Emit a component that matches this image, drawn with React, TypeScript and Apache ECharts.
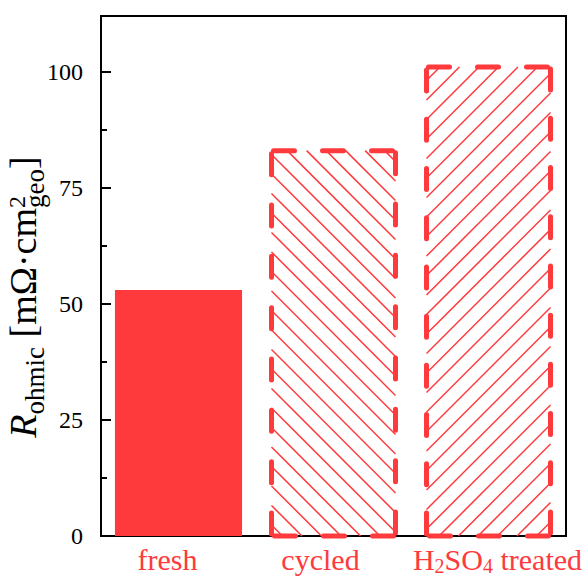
import React, { useEffect, useRef } from "react";
import * as echarts from "echarts";

// Ohmic resistance of the three samples, in mΩ·cm²(geo)
const categories = ["fresh", "cycled", "H2SO4 treated"];
const ohmicResistance = [53, 83, 101];
// Fill style of each bar: solid, "\" hatch with dashed outline, "/" hatch with dashed outline
const barFills = ["solid", "backslash", "slash"];
// Horizontal nudge of each category label (px, + = right)
const labelNudge = [-11, -13, 9];
// Value axis: labelled ticks every 25, small ticks every 12.5
const yMin = 0;
const yMax = 112;
const yMajorStep = 25;
const yMinorStep = 12.5;

const RED = "#fe3a3d";
const SERIF = '"Liberation Serif", "Times New Roman", serif';

function textWidth(text: string, font: string): number {
  const ctx = document.createElement("canvas").getContext("2d");
  if (!ctx) return text.length * 10;
  ctx.font = font;
  return ctx.measureText(text).width;
}

// Rotated axis title: R_ohmic [mΩ·cm²_geo], with the "2" stacked over "geo"
function buildTitle(baseX: number, centerY: number) {
  const main = 38;
  const small = 27;
  const parts = [
    { text: "R", size: main, italic: true, shift: 0, advance: true },
    { text: "ohmic", size: small, italic: false, shift: 8, advance: true },
    { text: " [mΩ·cm", size: main, italic: false, shift: 0, advance: true },
    { text: "2", size: 24, italic: false, shift: -11, advance: false },
    { text: "geo", size: small, italic: false, shift: 8, advance: true },
    { text: "]", size: main, italic: false, shift: 0, advance: true },
  ];
  let x = 0;
  const children: any[] = [];
  for (const p of parts) {
    const font = `${p.italic ? "italic " : ""}${p.size}px ${SERIF}`;
    children.push({
      type: "text",
      x,
      y: p.shift - 0.34 * p.size,
      style: {
        text: p.text,
        fontSize: p.size,
        fontFamily: SERIF,
        fontStyle: p.italic ? "italic" : "normal",
        fill: "#000",
        align: "left",
        verticalAlign: "middle",
      },
    });
    if (p.advance) x += textWidth(p.text, font);
  }
  return {
    type: "group",
    x: baseX,
    y: centerY + x / 2,
    rotation: Math.PI / 2,
    children,
  };
}

// "H2SO4 treated" -> rich text with subscript digits
function richLabel(value: string): string {
  return value
    .split(/(\d)/)
    .filter((s) => s.length > 0)
    .map((s) => (/^\d$/.test(s) ? `{s|${s}}` : `{n|${s}}`))
    .join("");
}

function hatchLines(x0: number, y0: number, x1: number, y1: number, dir: string) {
  const step = 19.5;
  const lines: any[] = [];
  const style = { stroke: RED, lineWidth: 1.5 };
  if (dir === "backslash") {
    // y = x + c
    const cMin = y0 - x1;
    const cMax = y1 - x0;
    for (let c = Math.ceil(cMin / step) * step; c <= cMax; c += step) {
      const sx = Math.max(x0, y0 - c);
      const ex = Math.min(x1, y1 - c);
      if (ex - sx > 0.5)
        lines.push({ type: "line", shape: { x1: sx, y1: sx + c, x2: ex, y2: ex + c }, style });
    }
  } else {
    // y = -x + c
    const cMin = x0 + y0;
    const cMax = x1 + y1;
    for (let c = Math.ceil(cMin / step) * step; c <= cMax; c += step) {
      const sx = Math.max(x0, c - y1);
      const ex = Math.min(x1, c - y0);
      if (ex - sx > 0.5)
        lines.push({ type: "line", shape: { x1: sx, y1: c - sx, x2: ex, y2: c - ex }, style });
    }
  }
  return lines;
}

// One dashed side that begins and ends with a dash
function dashedSide(ax: number, ay: number, bx: number, by: number) {
  const lw = 5;
  const dash = 26;
  const gapTarget = 26;
  const len = Math.hypot(bx - ax, by - ay);
  const n = Math.max(2, Math.round((len + gapTarget) / (dash + gapTarget)));
  const gap = (len - n * dash) / (n - 1);
  return {
    type: "line",
    shape: { x1: ax, y1: ay, x2: bx, y2: by },
    style: {
      stroke: RED,
      lineWidth: lw,
      lineCap: "round",
      lineDash: [dash - lw, gap + lw],
      lineDashOffset: -lw / 2,
    },
  };
}

export default function App() {
  const ref = useRef<HTMLDivElement>(null);

  useEffect(() => {
    if (!ref.current) return;
    const chart = echarts.init(ref.current, undefined, { renderer: "svg" });

    const option: any = {
      animation: false,
      backgroundColor: "#fff",
      grid: {
        left: 101,
        top: 16,
        right: 20,
        bottom: 39,
        show: true,
        borderColor: "#000",
        borderWidth: 2,
        backgroundColor: "transparent",
      },
      xAxis: {
        type: "category",
        data: categories.map((c, i) => ({
          value: c,
          textStyle: {
            padding:
              labelNudge[i] < 0
                ? [0, -2 * labelNudge[i], 0, 0]
                : [0, 0, 0, 2 * labelNudge[i]],
          },
        })),
        boundaryGap: true,
        axisLine: { show: true, lineStyle: { color: "#000", width: 2 } },
        axisTick: { show: false },
        splitLine: { show: false },
        axisLabel: {
          interval: 0,
          hideOverlap: false,
          margin: 6,
          color: RED,
          fontFamily: SERIF,
          fontSize: 30,
          lineHeight: 34,
          formatter: (v: string) => (/\d/.test(v) ? richLabel(v) : v),
          rich: {
            n: { color: RED, fontFamily: SERIF, fontSize: 30, lineHeight: 34, verticalAlign: "middle" },
            s: { color: RED, fontFamily: SERIF, fontSize: 20, lineHeight: 16, verticalAlign: "bottom" },
          },
        },
      },
      yAxis: [
        {
          type: "value",
          min: yMin,
          max: yMax,
          interval: yMajorStep,
          position: "left",
          axisLine: { show: true, lineStyle: { color: "#000", width: 2 } },
          axisTick: { show: true, inside: true, length: 10, lineStyle: { color: "#000", width: 2 } },
          splitLine: { show: false },
          axisLabel: {
            margin: 18,
            color: "#000",
            fontFamily: SERIF,
            fontSize: 24,
            showMaxLabel: false,
          },
        },
        {
          type: "value",
          min: yMin,
          max: yMax,
          interval: yMinorStep,
          position: "left",
          axisLine: { show: false },
          axisTick: { show: true, inside: true, length: 6, lineStyle: { color: "#000", width: 2 } },
          splitLine: { show: false },
          axisLabel: { show: false },
        },
      ],
      graphic: [buildTitle(36, 297)],
      series: [
        {
          type: "custom",
          coordinateSystem: "cartesian2d",
          xAxisIndex: 0,
          yAxisIndex: 0,
          clip: false,
          encode: { x: 0, y: 1 },
          data: categories.map((_, i) => [i, ohmicResistance[i]]),
          renderItem: (params: any, api: any) => {
            const i = params.dataIndex;
            const cat = api.value(0);
            const val = api.value(1);
            const topPt = api.coord([cat, val]);
            const basePt = api.coord([cat, 0]);
            const band = api.size([1, 0])[0];
            const fill = barFills[i];
            const w = band * (fill === "solid" ? 0.82 : 0.8);
            const x0 = topPt[0] - w / 2;
            const x1 = topPt[0] + w / 2;
            const y0 = topPt[1];
            const y1 = basePt[1];
            if (fill === "solid") {
              return {
                type: "rect",
                shape: { x: x0, y: y0, width: w, height: y1 - y0 },
                style: { fill: RED },
              };
            }
            const children: any[] = hatchLines(x0, y0, x1, y1, fill);
            children.push(dashedSide(x0, y0, x1, y0));
            children.push(dashedSide(x1, y0, x1, y1));
            children.push(dashedSide(x1, y1, x0, y1));
            children.push(dashedSide(x0, y1, x0, y0));
            return { type: "group", children };
          },
        },
      ],
    };

    chart.setOption(option);
    return () => chart.dispose();
  }, []);

  return (
    <div
      ref={ref}
      style={{ position: "absolute", left: 0, top: 0, width: 586, height: 576 }}
    />
  );
}
